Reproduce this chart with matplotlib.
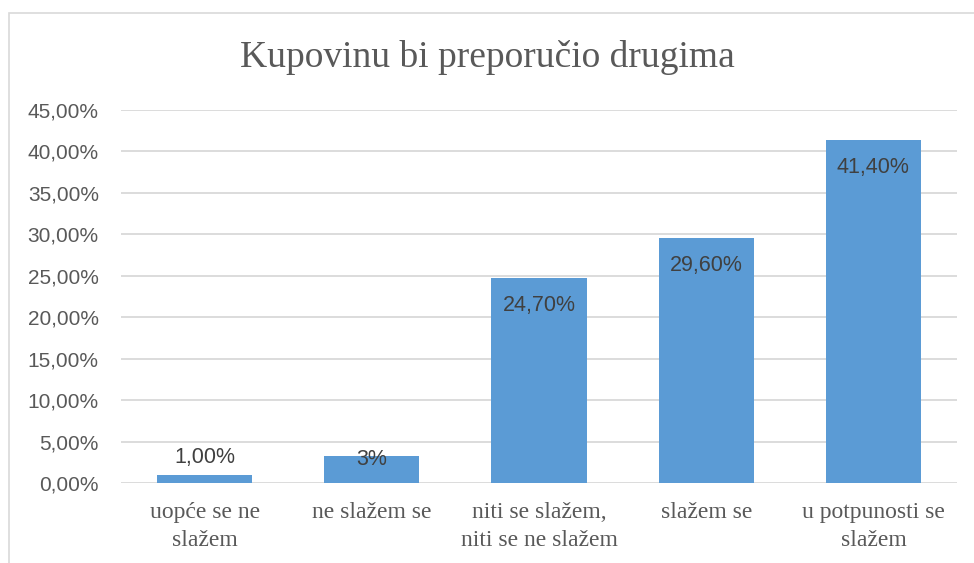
import matplotlib
matplotlib.use("Agg")
import matplotlib.pyplot as plt
from matplotlib.patches import Rectangle
from matplotlib.ticker import FuncFormatter

categories = ["uopće se ne\nslažem", "ne slažem se", "niti se slažem,\nniti se ne slažem",
              "slažem se", "u potpunosti se\nslažem"]
values = [1.0, 3.3, 24.7, 29.6, 41.4]
labels = ["1,00%", "3%", "24,70%", "29,60%", "41,40%"]
yticks = [0, 5, 10, 15, 20, 25, 30, 35, 40, 45]

fig = plt.figure(figsize=(9.74, 5.63), dpi=100)
fig.patch.set_facecolor("white")
fig.patches.append(Rectangle((9/974, -0.2), 1.2, 1.2 - 13/563, transform=fig.transFigure,
                             fill=False, edgecolor="#d9d9d9", linewidth=1.2, zorder=0))

ax = fig.add_axes([121/974, 1 - 483/563, (957 - 121)/974, (483 - 110)/563])
x = list(range(len(categories)))
bars = ax.bar(x, values, width=0.57, color="#5b9bd5", zorder=3)
ax.set_xlim(-0.5, len(categories) - 0.5)
ax.set_ylim(0, 45)
ax.set_yticks(yticks)
ax.yaxis.set_major_formatter(FuncFormatter(lambda v, p: f"{v:.2f}".replace(".", ",") + "%"))
ax.grid(axis="y", color="#d9d9d9", linewidth=1.3, zorder=0)
for s in ax.spines.values():
    s.set_visible(False)
ax.tick_params(axis="y", length=0, pad=16, labelsize=15, labelcolor="#595959")
ax.tick_params(axis="x", length=0, pad=14, labelcolor="#595959")
for t in ax.get_yticklabels():
    t.set_fontfamily("Liberation Sans")
ax.set_xticks(x)
ax.set_xticklabels(categories, fontsize=17, fontfamily="Liberation Serif", color="#595959",
                   linespacing=1.42, va="top")

offsets = [17, -4, -27, -28, -28]
for xi, v, lab, off in zip(x, values, labels, offsets):
    ax.annotate(lab, (xi, v), xytext=(0, off * 72 / 100), textcoords="offset points",
                ha="center", va="center", fontsize=15.5, fontfamily="Liberation Sans",
                color="#404040", zorder=5)

fig.text(0.5, 1 - 58/563, "Kupovinu bi preporučio drugima", ha="center", va="center",
         fontsize=27, fontfamily="Liberation Serif", color="#595959")

fig.savefig("out.png", dpi=100)
